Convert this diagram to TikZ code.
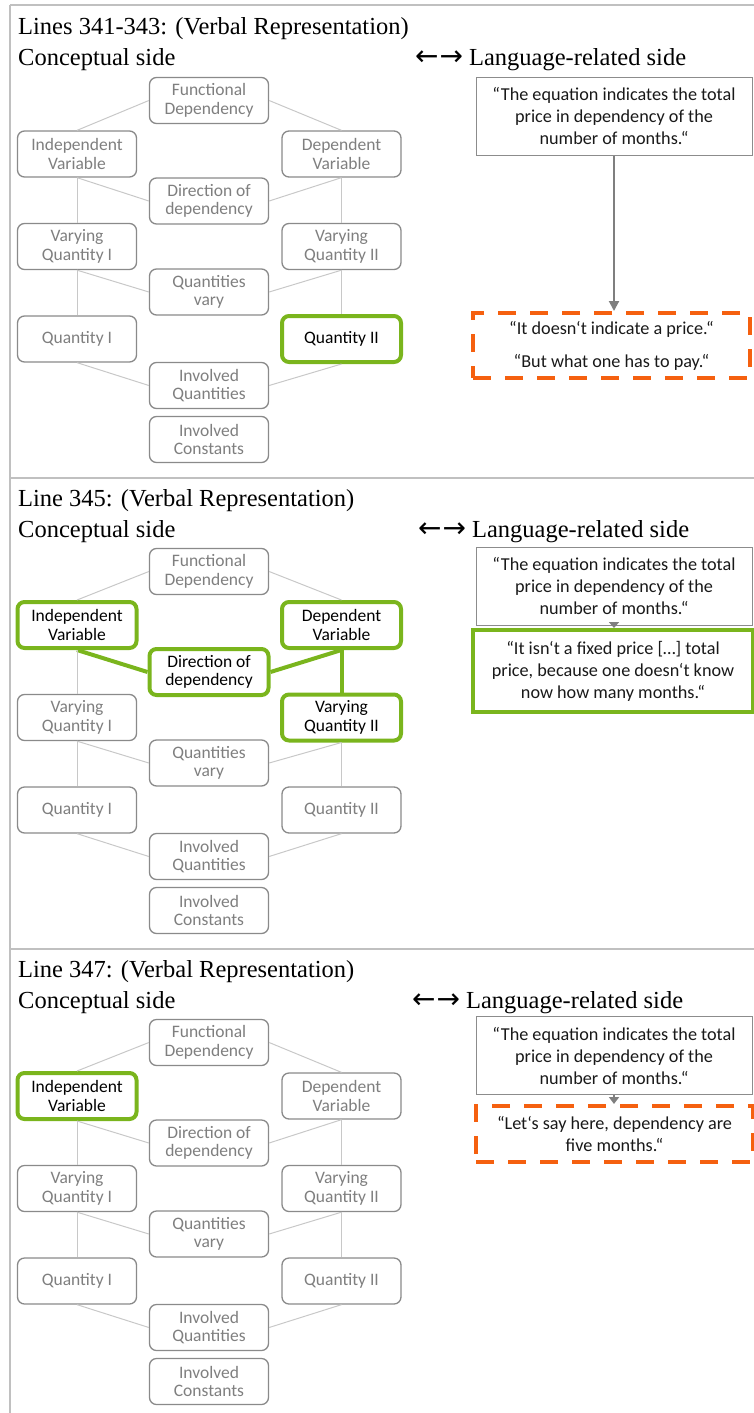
\documentclass[tikz,border=0pt]{standalone}
\usepackage{fontspec}
\setmainfont{Liberation Serif}
\newfontfamily\calfont{Carlito}
\newfontfamily\arrowfont{DejaVu Sans}
\usetikzlibrary{arrows.meta}
\definecolor{framegray}{HTML}{C0C0C0}
\definecolor{boxgray}{HTML}{8A8A8A}
\definecolor{txtgray}{HTML}{7F7F7F}
\definecolor{linkgray}{HTML}{C8C8C8}
\definecolor{hlgreen}{HTML}{7AB51D}
\definecolor{dashorange}{HTML}{F5600F}
\definecolor{arrowgray}{HTML}{7F7F7F}
\definecolor{quotegray}{HTML}{8C8C8C}
\newcommand\bothways{{\arrowfont\fontsize{28}{28}\selectfont ←\kern1pt→}\hspace{6pt}}
\tikzset{
  frame/.style={draw=framegray, line width=2pt},
  head/.style={anchor=base west, inner sep=0pt, font=\fontsize{24.5}{28}\selectfont},
  cbox/.style={draw=boxgray, line width=1.3pt, rounded corners=7pt, fill=white,
    minimum width=119pt, minimum height=46pt, inner sep=0pt, align=center,
    text=txtgray, font=\calfont\fontsize{17.5}{18.5}\selectfont},
  hl/.style={draw=hlgreen, line width=4pt, text=black},
  link/.style={draw=linkgray, line width=1pt},
  hlink/.style={draw=hlgreen, line width=4pt},
  qtext/.style={align=center, inner sep=0pt, text=black!90,
    font=\calfont\fontsize{18.2}{22}\selectfont},
  qbox/.style={qtext, draw=quotegray, line width=1pt, fill=white,
    minimum width=276pt, minimum height=78pt},
  dashbox/.style={qtext, draw=dashorange, line width=4pt, dash pattern=on 18pt off 14pt},
  greenbox/.style={qtext, draw=hlgreen, line width=4pt},
  qarrow/.style={draw=arrowgray, line width=2pt, -{Triangle[length=10pt,width=10pt]}},
  sFD/.style={}, sIV/.style={}, sDV/.style={}, sDoD/.style={},
  sVA/.style={}, sVB/.style={}, sQV/.style={}, sQA/.style={}, sQB/.style={},
  sIQ/.style={}, sIC/.style={},
  lIVD/.style={link}, lDVD/.style={link}, lDVV/.style={link}
}
\newcommand\cmap{%
  \node[cbox,sFD] (fd) at (209,100.5) {Functional\\Dependency};
  \node[cbox,sIV] (iv) at (77,154) {Independent\\Variable};
  \node[cbox,sDV] (dv) at (341.5,154) {Dependent\\Variable};
  \node[cbox,sDoD] (dod) at (209,201) {Direction of\\dependency};
  \node[cbox,sVA] (va) at (77,246.5) {Varying\\Quantity I};
  \node[cbox,sVB] (vb) at (341.5,246.5) {Varying\\Quantity II};
  \node[cbox,sQV] (qv) at (209,292) {Quantities\\vary};
  \node[cbox,sQA] (qa) at (77,339) {Quantity I};
  \node[cbox,sQB] (qb) at (341.5,339) {Quantity II};
  \node[cbox,sIQ] (iq) at (209,385.5) {Involved\\Quantities};
  \node[cbox,sIC] (ic) at (209,439.5) {Involved\\Constants};
  \draw[link] (fd.west) -- (iv.north);
  \draw[link] (fd.east) -- (dv.north);
  \draw[lIVD] (iv.south) -- (dod.west);
  \draw[lDVD] (dv.south) -- (dod.east);
  \draw[link] (iv.south) -- (va.north);
  \draw[lDVV] (dv.south) -- (vb.north);
  \draw[link] (va.south) -- (qv.west);
  \draw[link] (vb.south) -- (qv.east);
  \draw[link] (va.south) -- (qa.north);
  \draw[link] (vb.south) -- (qb.north);
  \draw[link] (qa.south) -- (iq.west);
  \draw[link] (qb.south) -- (iq.east);
}
\begin{document}
\begin{tikzpicture}[x=1pt,y=-1pt]
\useasboundingbox (0,0) rectangle (754,1413);
% table frame
\draw[frame] (10,5) -- (754,5);
\draw[frame] (10,5) -- (10,1413);
\draw[frame] (10,478) -- (754,478);
\draw[frame] (10,949) -- (754,949);

% ---------- panel 1
\begin{scope}[name prefix=a-, sQB/.style={hl}]
  \node[head] (title) at (18,35) {Lines 341-343: (Verbal Representation)};
  \node[head] (cside) at (18,66) {Conceptual side};
  \node[head] (lside) at (415,66) {\bothways Language-related side};
  \cmap
  \node[qbox] (q0) at (614,116) {“The equation indicates the total\\price in dependency of the\\number of months.“};
  \node[dashbox, minimum width=277pt, minimum height=65pt] (q1) at (611.5,345.5)
    {“It doesn‘t indicate a price.“\\[11pt]“But what one has to pay.“};
  \draw[qarrow] (q0.south) -- (q0.south |- q1.north);
\end{scope}

% ---------- panel 2
\begin{scope}[shift={(0,471)}, name prefix=b-, sIV/.style={hl}, sDV/.style={hl},
  sDoD/.style={hl}, sVB/.style={hl}, lIVD/.style={hlink}, lDVD/.style={hlink}, lDVV/.style={hlink}]
  \node[head] (title) at (18,35) {Line 345: (Verbal Representation)};
  \node[head] (cside) at (18,66) {Conceptual side};
  \node[head] (lside) at (418,66) {\bothways Language-related side};
  \cmap
  \node[qbox] (q0) at (614,115) {“The equation indicates the total\\price in dependency of the\\number of months.“};
  \node[greenbox, minimum width=280pt, minimum height=82pt] (q1) at (613,200)
    {“It isn‘t a fixed price […] total\\price, because one doesn‘t know\\now how many months.“};
  \draw[qarrow, -{Triangle[length=6pt,width=10pt]}] (q0.south) -- (q0.south |- q1.north);
\end{scope}

% ---------- panel 3
\begin{scope}[shift={(0,942)}, name prefix=c-, sIV/.style={hl}]
  \node[head] (title) at (18,35) {Line 347: (Verbal Representation)};
  \node[head] (cside) at (18,66) {Conceptual side};
  \node[head] (lside) at (412,66) {\bothways Language-related side};
  \cmap
  \node[qbox] (q0) at (614,113.5) {“The equation indicates the total\\price in dependency of the\\number of months.“};
  \node[dashbox, minimum width=277pt, minimum height=56pt] (q1) at (614.5,192)
    {“Let‘s say here, dependency are\\five months.“};
  \draw[qarrow, -{Triangle[length=7pt,width=10pt]}] (q0.south) -- (q0.south |- q1.north);
\end{scope}
\end{tikzpicture}
\end{document}
